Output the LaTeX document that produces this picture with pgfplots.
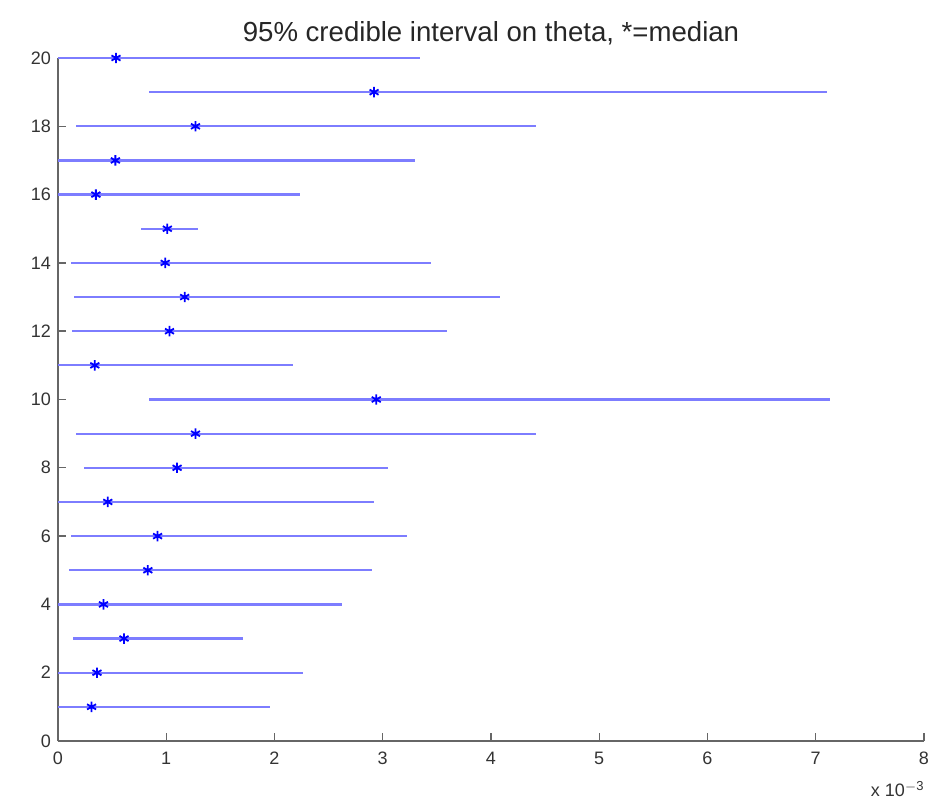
\documentclass[border=0pt]{standalone}
\usepackage{pgfplots}
\usepackage{pgfplotstable}
\usepackage{fontspec}
\setmainfont{Liberation Sans}
\pgfplotsset{compat=1.18}

% 95% credible intervals (lo, hi) and medians, in units of 1e-3
\pgfplotstableread{
y  lo    med   hi
1  0.00  0.31  1.96
2  0.00  0.36  2.26
3  0.14  0.61  1.71
4  0.00  0.42  2.62
5  0.10  0.83  2.90
6  0.12  0.92  3.22
7  0.00  0.46  2.92
8  0.24  1.10  3.05
9  0.17  1.27  4.42
10 0.84  2.94  7.13
11 0.00  0.34  2.17
12 0.13  1.03  3.59
13 0.15  1.17  4.08
14 0.12  0.99  3.45
15 0.77  1.01  1.29
16 0.00  0.35  2.24
17 0.00  0.53  3.30
18 0.17  1.27  4.42
19 0.84  2.92  7.10
20 0.00  0.536 3.34
}\intervals

\definecolor{ci}{RGB}{125,125,255}

\begin{document}
\begin{tikzpicture}[x=1pt,y=1pt]
\begin{axis}[
  scale only axis,
  width=433pt, height=341.5pt,
  xmin=0, xmax=8, ymin=0, ymax=20,
  xtick={0,...,8}, ytick={0,2,...,20},
  axis x line*=bottom, axis y line*=left,
  axis line style={-, black!60, line width=0.7pt},
  tick style={black!60, line width=0.7pt},
  tick align=inside,
  major tick length=4pt,
  clip=false,
  ticklabel style={font=\fontsize{9}{10}\selectfont, text=black!80},
  xticklabel style={yshift=-2pt},
  /pgf/number format/assume math mode=true,
  title={95\% credible interval on theta, *=median},
  title style={font=\fontsize{13.8}{16}\selectfont, text=black!85, yshift=-3pt},
]
% interval lines
\addplot[ci, line width=1.1pt, draw=none, mark=none,
  error bars/.cd, x dir=both, x explicit,
  error mark=none, error bar style={ci, line width=1.1pt}]
  table[x=med, y=y,
    x error plus expr=\thisrow{hi}-\thisrow{med},
    x error minus expr=\thisrow{med}-\thisrow{lo}] {\intervals};
% medians
\addplot[only marks, blue, mark=asterisk, mark size=2.6pt,
  mark options={line width=0.9pt}]
  table[x=med, y=y] {\intervals};
\end{axis}
\node[anchor=north east, font=\fontsize{9}{10}\selectfont, text=black!80, inner sep=0pt]
  at ([yshift=-20pt]current axis.south east)
  {x 10\raisebox{0.6ex}{\fontsize{6.5}{7}\selectfont $-$3}};
\path[use as bounding box] ([shift={(-29pt,-33.5pt)}]current axis.south west)
  rectangle ([shift={(11.5pt,29pt)}]current axis.north east);
\end{tikzpicture}
\end{document}
